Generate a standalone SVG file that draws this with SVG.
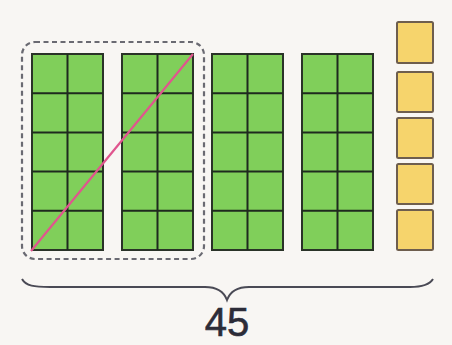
<svg xmlns="http://www.w3.org/2000/svg" width="452" height="345" viewBox="0 0 452 345">
<defs>
<style>
.bg{fill:#f8f6f3}
.rod{fill:#80cf5a;stroke:#2a3328;stroke-width:2}
.grid{stroke:#1e2a1e;stroke-width:2;fill:none}
.unit{fill:#f6d46c;stroke:#6e5e4e;stroke-width:2}
.group{fill:none;stroke:#6a6a72;stroke-width:2.2;stroke-dasharray:5 3.5}
.cross{stroke:#e0558e;stroke-width:2.2;fill:none}
.brace{fill:none;stroke:#4a4a55;stroke-width:2}
.lbl{font-family:"Liberation Sans",Arial,sans-serif;font-size:40px;fill:#2c2c38;stroke:#2c2c38;stroke-width:0.6;text-anchor:middle}
</style>
<g id="rodtpl">
<rect class="rod" x="0" y="0" width="71" height="196"/>
<path class="grid" d="M35.5 0V196M0 39.2H71M0 78.4H71M0 117.6H71M0 156.8H71"/>
</g>
</defs>
<rect class="bg" x="0" y="0" width="452" height="345"/>
<g id="group-box"><rect class="group" x="22" y="42" width="182" height="217" rx="13"/></g>
<g id="rod1"><use href="#rodtpl" x="32" y="54"/></g>
<g id="rod2"><use href="#rodtpl" x="122" y="54"/></g>
<g id="rod3"><use href="#rodtpl" x="212" y="54"/></g>
<g id="rod4"><use href="#rodtpl" x="302" y="54"/></g>
<g id="units">
<rect class="unit" x="397" y="22" width="36" height="41" rx="1.5"/>
<rect class="unit" x="397" y="72" width="36" height="40" rx="1.5"/>
<rect class="unit" x="397" y="118" width="36" height="40" rx="1.5"/>
<rect class="unit" x="397" y="164" width="36" height="40" rx="1.5"/>
<rect class="unit" x="397" y="210" width="36" height="40" rx="1.5"/>
</g>
<g id="connectors">
<line class="cross" x1="31" y1="251" x2="193" y2="54"/>
<path class="brace" d="M22 279C26 286 34 287 50 287H205C217 287 224 292 227 300C230 292 237 287 249 287H410C424 287 430 284 433 279"/>
</g>
<g id="label"><text class="lbl" x="227" y="336">45</text></g>
</svg>
